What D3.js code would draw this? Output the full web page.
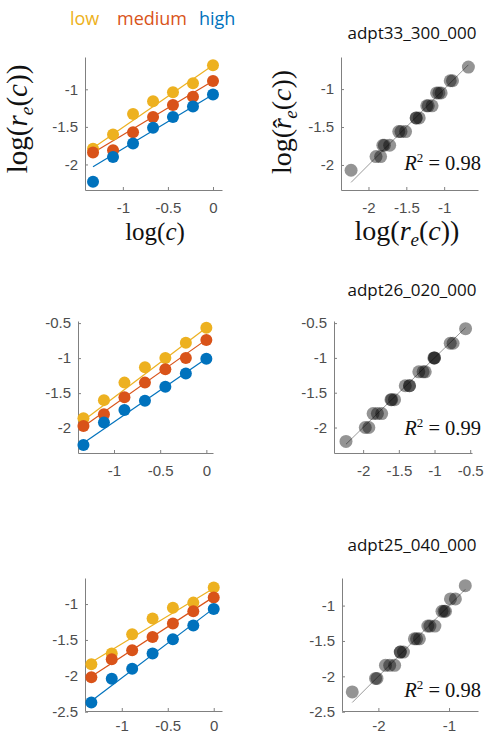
<!doctype html>
<html>
<head>
<meta charset="utf-8">
<style>
  body { margin: 0; background: #fff; }
  .tick text { font-family: "Liberation Sans", Arial, sans-serif; font-size: 15px; fill: #4d4d4d; }
  .tick line { stroke: #808080; }
  .domain { stroke: #808080; }
  .math { font-family: "Liberation Serif", "Times New Roman", serif; fill: #111; }
  .ttl { font-family: "Open Sans", sans-serif; font-size: 17px; fill: #111; }
  .leg { font-family: "Open Sans", sans-serif; font-size: 18px; }
</style>
<script src="https://d3js.org/d3.v7.min.js"></script>
</head>
<body>
<svg width="487" height="734"></svg>
<script>

// contrast levels, log10(c)
var logC = [-1.331, -1.109, -0.887, -0.665, -0.444, -0.222, 0];
var seriesNames = ["low", "medium", "high"];
var levelShift = [2, 1, 0];   // which model level each series starts on

// adpt33_300_000
var obs33Low    = [-1.79, -1.60, -1.33, -1.16, -1.04, -0.92, -0.68];
var obs33Medium = [-1.84, -1.81, -1.57, -1.37, -1.21, -1.10, -0.89];
var obs33High   = [-2.23, -1.90, -1.72, -1.51, -1.37, -1.23, -1.07];
var fit33 = [[-1.78, -0.68], [-1.845, -0.89], [-2.03, -1.07]];
var pred33 = [-2.07, -1.89, -1.74, -1.56, -1.38, -1.22, -1.05, -0.89, -0.71];

// adpt26_020_000
var obs26Low    = [-1.86, -1.60, -1.35, -1.13, -1.00, -0.78, -0.565];
var obs26Medium = [-1.97, -1.80, -1.56, -1.35, -1.16, -1.00, -0.74];
var obs26High   = [-2.24, -1.92, -1.74, -1.61, -1.41, -1.22, -1.01];
var fit26 = [[-1.89, -0.565], [-1.975, -0.736], [-2.213, -1.006]];
var pred26 = [-2.2, -2.0, -1.8, -1.6, -1.4, -1.2, -1.0, -0.79, -0.58];

// adpt25_040_000
var obs25Low    = [-1.84, -1.69, -1.42, -1.20, -1.05, -0.98, -0.77];
var obs25Medium = [-2.02, -1.77, -1.645, -1.46, -1.27, -1.10, -0.91];
var obs25High   = [-2.37, -2.04, -1.90, -1.69, -1.49, -1.30, -1.07];
var fit25 = [[-1.81, -0.78], [-2.01, -0.90], [-2.35, -1.06]];
var pred25 = [-2.22, -2.03, -1.845, -1.657, -1.47, -1.29, -1.08, -0.906, -0.718];

var titles = ["adpt33_300_000", "adpt26_020_000", "adpt25_040_000"];
var r2Labels = ["0.98", "0.99", "0.98"];

var xTicksLeft = [[-1, -0.5, 0], [-1, -0.5, 0], [-1, -0.5, 0]];
var yTicksLeft = [[-2, -1.5, -1], [-2, -1.5, -1, -0.5], [-2.5, -2, -1.5, -1]];
var xTicksRight = [[-2, -1.5, -1], [-2, -1.5, -1, -0.5], [-2, -1]];
var yTicksRight = [[-2, -1.5, -1], [-2, -1.5, -1, -0.5], [-2.5, -2, -1.5, -1]];

var colors = ["#EDB120", "#D95319", "#0072BD"];

var rows = [
  { obs: [obs33Low, obs33Medium, obs33High], fit: fit33, pred: pred33 },
  { obs: [obs26Low, obs26Medium, obs26High], fit: fit26, pred: pred26 },
  { obs: [obs25Low, obs25Medium, obs25High], fit: fit25, pred: pred25 }
];

// axes boxes (pixels) and limits
var layout = [
  { L: { x0: 85, x1: 222, y0: 57, y1: 190, xd: [-1.42, 0.1], yd: [-2.34, -0.57] },
    R: { x0: 341, x1: 478, y0: 57, y1: 190, xd: [-2.363, -0.553], yd: [-2.33, -0.577] },
    titleY: 39, r2Y: 170, pad: 12 },
  { L: { x0: 78, x1: 213, y0: 321, y1: 453, xd: [-1.39, 0.072], yd: [-2.355, -0.47] },
    R: { x0: 334, x1: 472, y0: 321, y1: 453, xd: [-2.408, -0.475], yd: [-2.366, -0.47] },
    titleY: 296, r2Y: 435, pad: 12 },
  { L: { x0: 85, x1: 222, y0: 578, y1: 711, xd: [-1.40, 0.09], yd: [-2.49, -0.637] },
    R: { x0: 342, x1: 478, y0: 578, y1: 711, xd: [-2.515, -0.59], yd: [-2.49, -0.61] },
    titleY: 551, r2Y: 697, pad: 9 }
];

var svg = d3.select("svg");
svg.append("rect").attr("width", 487).attr("height", 734).attr("fill", "#fff");

function axes(box, xt, yt, pad) {
  var x = d3.scaleLinear().domain(box.xd).range([box.x0, box.x1]);
  var y = d3.scaleLinear().domain(box.yd).range([box.y1, box.y0]);
  svg.append("g")
     .attr("transform", "translate(0," + box.y1 + ")")
     .call(d3.axisBottom(x).tickValues(xt).tickSize(-3).tickSizeOuter(0).tickPadding(pad)
             .tickFormat(function(d) { return String(d); }));
  svg.append("g")
     .attr("transform", "translate(" + box.x0 + ",0)")
     .call(d3.axisLeft(y).tickValues(yt).tickSize(-3).tickSizeOuter(0).tickPadding(7)
             .tickFormat(function(d) { return String(d); }));
  return { x: x, y: y };
}

rows.forEach(function(row, i) {
  var lay = layout[i];

  // left: response vs contrast
  var s = axes(lay.L, xTicksLeft[i], yTicksLeft[i], lay.pad);
  row.fit.forEach(function(f, j) {
    svg.append("line")
       .attr("x1", s.x(logC[0])).attr("y1", s.y(f[0]))
       .attr("x2", s.x(logC[logC.length - 1])).attr("y2", s.y(f[1]))
       .attr("stroke", colors[j]).attr("stroke-width", 1.2);
  });
  row.obs.forEach(function(vals, j) {
    svg.append("g").selectAll("circle")
       .data(vals)
       .enter().append("circle")
       .attr("cx", function(d, k) { return s.x(logC[k]); })
       .attr("cy", function(d) { return s.y(d); })
       .attr("r", 6)
       .attr("fill", colors[j]);
  });

  // right: model prediction vs data
  var t = axes(lay.R, xTicksRight[i], yTicksRight[i], lay.pad);
  var all = d3.merge(row.obs);
  var lo = d3.min(all), hi = d3.max(all);
  svg.append("line")
     .attr("x1", t.x(lo)).attr("y1", t.y(lo))
     .attr("x2", t.x(hi)).attr("y2", t.y(hi))
     .attr("stroke", "#9a9a9a").attr("stroke-width", 1);
  var pts = [];
  row.obs.forEach(function(vals, j) {
    vals.forEach(function(v, k) {
      pts.push({ o: v, p: row.pred[k + levelShift[j]] });
    });
  });
  svg.append("g").selectAll("circle")
     .data(pts)
     .enter().append("circle")
     .attr("cx", function(d) { return t.x(d.o); })
     .attr("cy", function(d) { return t.y(d.p); })
     .attr("r", 6.5)
     .attr("fill", "#000")
     .attr("fill-opacity", 0.42);

  svg.append("text")
     .attr("class", "ttl")
     .attr("x", 412).attr("y", lay.titleY)
     .attr("text-anchor", "middle")
     .text(titles[i]);

  var r2 = svg.append("text")
     .attr("class", "math")
     .attr("x", 481).attr("y", lay.r2Y)
     .attr("text-anchor", "end")
     .attr("font-size", 20.5);
  r2.append("tspan").attr("font-style", "italic").text("R");
  r2.append("tspan").attr("font-size", 13).attr("dy", -8).text("2");
  r2.append("tspan").attr("dy", 8).text(" = " + r2Labels[i]);
});

// legend
var legX = [70, 117, 199];
seriesNames.forEach(function(n, j) {
  svg.append("text")
     .attr("class", "leg")
     .attr("x", legX[j]).attr("y", 25)
     .attr("fill", colors[j])
     .text(n);
});

// axis labels, top row only
function logLabel(g, hat, fs) {
  g.append("tspan").text("log(");
  g.append("tspan").attr("font-style", "italic").text("r");
  if (hat) {
    g.append("tspan").attr("dx", -0.36 * fs).attr("dy", 0.03 * fs).text("\u02C6");
    g.append("tspan").attr("font-style", "italic").attr("font-size", fs * 0.68)
     .attr("dy", 0.17 * fs).text("e");
  } else {
    g.append("tspan").attr("font-style", "italic").attr("font-size", fs * 0.68)
     .attr("dy", 0.2 * fs).text("e");
  }
  g.append("tspan").attr("dy", -0.2 * fs).text("(");
  g.append("tspan").attr("font-style", "italic").text("c");
  g.append("tspan").text("))");
}

var yl = svg.append("text").attr("class", "math").attr("font-size", 29)
   .attr("text-anchor", "middle")
   .attr("transform", "translate(27,119) rotate(-90)");
logLabel(yl, false, 29);

var yr = svg.append("text").attr("class", "math").attr("font-size", 28)
   .attr("text-anchor", "middle")
   .attr("transform", "translate(291,122) rotate(-90)");
logLabel(yr, true, 28);

var xl = svg.append("text").attr("class", "math").attr("font-size", 25)
   .attr("text-anchor", "middle")
   .attr("x", 155).attr("y", 240);
xl.append("tspan").text("log(");
xl.append("tspan").attr("font-style", "italic").text("c");
xl.append("tspan").text(")");

var xr = svg.append("text").attr("class", "math").attr("font-size", 28)
   .attr("text-anchor", "middle")
   .attr("x", 407).attr("y", 240);
logLabel(xr, false, 28);

</script>
</body>
</html>
